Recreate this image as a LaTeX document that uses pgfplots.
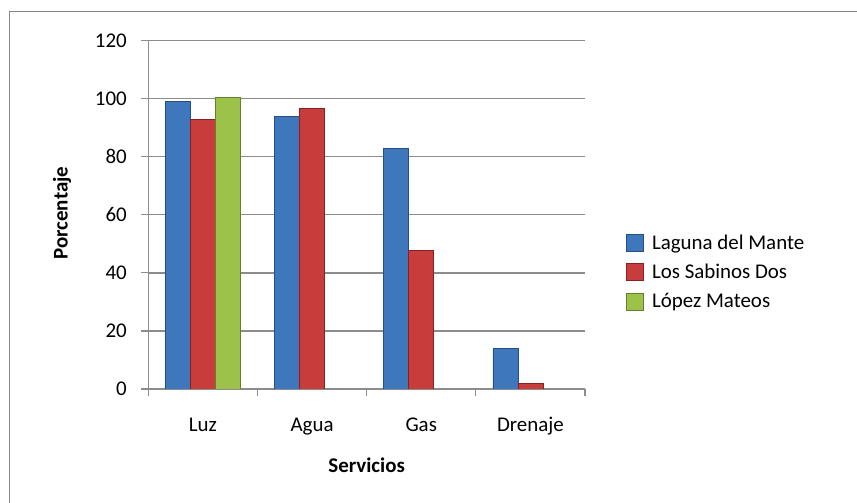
\documentclass[border=0pt]{standalone}
\usepackage{pgfplots}
\pgfplotsset{compat=1.18}
\usepackage{fontspec}
\setmainfont{Carlito}
\newcommand{\cf}{\fontsize{21}{25}\selectfont}
\definecolor{gridgray}{HTML}{8C8C8C}
\definecolor{frgray}{HTML}{868686}
\definecolor{sblue}{HTML}{3F77BD}
\definecolor{sblueD}{HTML}{244F85}
\definecolor{sred}{HTML}{C83C3C}
\definecolor{sredD}{HTML}{862224}
\definecolor{sgreen}{HTML}{9DC249}
\definecolor{sgreenD}{HTML}{65802C}
\begin{document}
\begin{tikzpicture}[x=1bp,y=1bp]
\useasboundingbox (0,0) rectangle (857,503);
\draw[frgray, line width=1.3bp] (9.3,0) -- (9.3,491.7) -- (857,491.7);
\begin{axis}[
  at={(148.3bp,114bp)}, anchor=south west,
  scale only axis, width=436.7bp, height=348.3bp,
  /pgf/number format/assume math mode=true,
  ymin=0, ymax=120, ytick={0,20,...,120},
  xmin=-0.5, xmax=3.5,
  xtick={0,1,2,3}, xticklabels={Luz,Agua,Gas,Drenaje},
  minor xtick={-0.5,0.5,1.5,2.5,3.5},
  major x tick style={draw=none},
  tick align=outside,
  major tick length=7bp, minor tick length=7bp,
  every tick/.style={gridgray, line width=1.2bp},
  axis x line*=bottom, axis y line*=left,
  axis line style={gridgray, line width=1.3bp, -},
  ymajorgrids, major grid style={gridgray, line width=1.3bp},
  tick label style={font=\cf},
  label style={font=\cf\bfseries},
  xticklabel style={anchor=base, yshift=-36bp},
  yticklabel style={xshift=-11bp},
  xlabel={Servicios}, ylabel={Porcentaje},
  xlabel style={at={(axis description cs:0.5,-0.218)}, anchor=center},
  ylabel style={at={(axis description cs:-0.1976,0.505)}, anchor=center, rotate=0},
  ybar=0pt, bar width=25bp,
  legend style={draw=none, fill=none, at={(1.094,0.336)}, anchor=west,
    inner sep=0pt, row sep=9.5bp, font=\cf,
    /tikz/every odd column/.append style={column sep=6bp}},
  legend cell align=left,
  legend image code/.code={\fill[#1] (0bp,-8.5bp) rectangle (17bp,8.5bp);},
]
\addplot[draw=sblueD, line width=0.8bp, fill=sblue] coordinates {(0,99) (1,94) (2,83) (3,14)};
\addplot[draw=sredD, line width=0.8bp, fill=sred] coordinates {(0,93) (1,96.5) (2,47.7) (3,2)};
\addplot[draw=sgreenD, line width=0.8bp, fill=sgreen] coordinates {(0,100.3)};
\legend{Laguna del Mante, Los Sabinos Dos, López Mateos}
\end{axis}
\end{tikzpicture}
\end{document}
